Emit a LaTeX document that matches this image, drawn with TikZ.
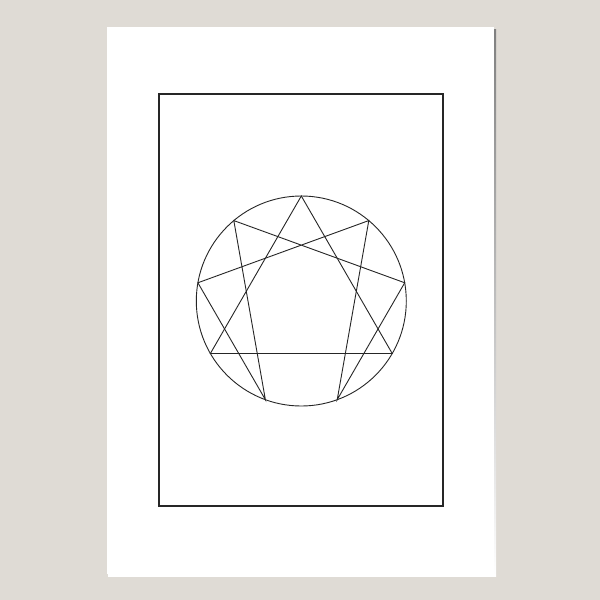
\documentclass[tikz,border=0pt]{standalone}
\usetikzlibrary{calc}
\definecolor{bg}{RGB}{223,219,213}
\definecolor{shade}{RGB}{188,185,179}
\definecolor{ink}{RGB}{38,38,38}
\begin{document}
\begin{tikzpicture}[x=1pt,y=-1pt,
  frame/.style={draw=ink,line width=1.5pt},
  figline/.style={draw=ink,line width=0.9pt,line join=miter}]
\fill[bg] (0,0) rectangle (600,600);
\useasboundingbox (0,0) rectangle (600,600);
\fill[shade] (108,29) rectangle (496,576);
\fill[white] (106.5,26.5) rectangle (494,574);
\draw[frame] (159,94) rectangle (443,506);
\coordinate (c) at (301.3,301);
\draw[figline] (c) circle (105);
\foreach \k in {0,...,8} {
  \coordinate (p\k) at ($(c)+({-(90-40*\k)}:105)$);
}
\draw[figline] (p0) -- (p3) -- (p6) -- cycle;
\draw[figline] (p1) -- (p4) -- (p2) -- (p8) -- (p5) -- (p7) -- cycle;
\end{tikzpicture}
\end{document}
